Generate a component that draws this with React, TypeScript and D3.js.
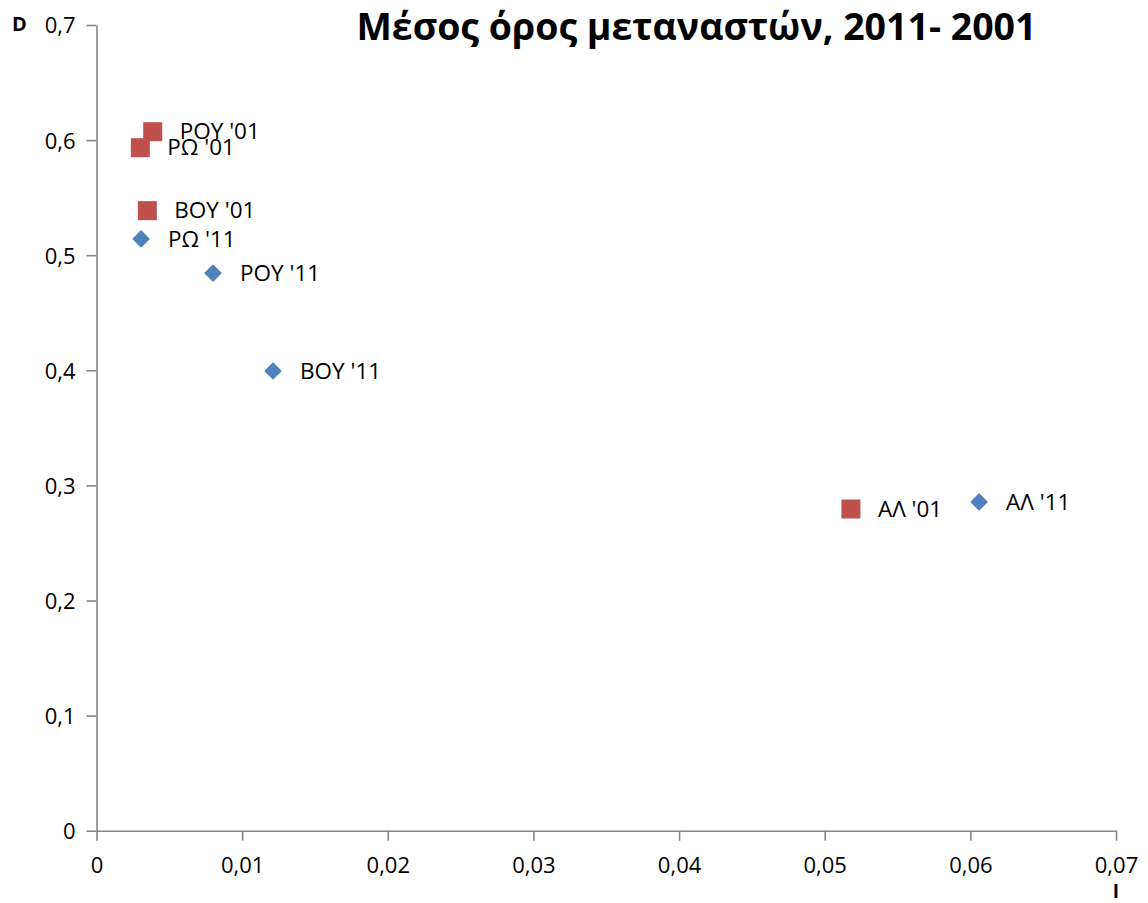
import React, { useEffect, useRef } from "react";
import * as d3 from "d3";

const title = "Μέσος όρος μεταναστών, 2011- 2001";
const xTicks = [0, 0.01, 0.02, 0.03, 0.04, 0.05, 0.06, 0.07];
const yTicks = [0, 0.1, 0.2, 0.3, 0.4, 0.5, 0.6, 0.7];

const labels2001 = ["ΡΟΥ '01", "ΡΩ '01", "ΒΟΥ '01", "ΑΛ '01"];
const x2001 = [0.00386, 0.00301, 0.00349, 0.0518];
const y2001 = [0.6073, 0.5934, 0.5387, 0.2795];

const labels2011 = ["ΡΩ '11", "ΡΟΥ '11", "ΒΟΥ '11", "ΑΛ '11"];
const x2011 = [0.00306, 0.008, 0.01212, 0.0606];
const y2011 = [0.5141, 0.4845, 0.3994, 0.2856];

const W = 1148;
const H = 903;
const FONT = "'Open Sans', 'Noto Sans', sans-serif";

export default function App() {
  const ref = useRef<SVGSVGElement>(null);

  useEffect(() => {
    const svg = d3.select(ref.current);
    svg.selectAll("*").remove();

    const x = d3.scaleLinear().domain([0, 0.07]).range([96.5, 1116]);
    const y = d3.scaleLinear().domain([0, 0.7]).range([830.7, 25]);
    const fmt = (v: number) => (v === 0 ? "0" : d3.format(".2f")(v).replace(".", ","));
    const fmtY = (v: number) => (v === 0 ? "0" : d3.format(".1f")(v).replace(".", ","));

    const axisColor = "#868686";

    const gy = svg.append("g").attr("transform", `translate(${x(0)},0)`)
      .call(d3.axisLeft(y).tickValues(yTicks).tickFormat(fmtY as any).tickSize(10).tickSizeOuter(0).tickPadding(11));
    const gx = svg.append("g").attr("transform", `translate(0,${y(0)})`)
      .call(d3.axisBottom(x).tickValues(xTicks).tickFormat(fmt as any).tickSize(10).tickSizeOuter(0).tickPadding(17));

    [gy, gx].forEach((g) => {
      g.select(".domain").attr("stroke", axisColor).attr("stroke-width", 1.6);
      g.selectAll(".tick line").attr("stroke", axisColor).attr("stroke-width", 1.6);
      g.selectAll(".tick text").attr("fill", "#000").attr("font-size", 22).attr("font-family", FONT);
    });
    gy.selectAll(".tick text").attr("dy", "0.36em");

    // title
    svg.append("text").attr("x", 696.5).attr("y", 40).attr("text-anchor", "middle")
      .attr("font-family", FONT).attr("font-weight", "bold").attr("font-size", 37.5).attr("fill", "#000").text(title);

    // axis titles
    svg.append("text").attr("x", 12).attr("y", 31).attr("font-family", FONT).attr("font-weight", "bold")
      .attr("font-size", 20).attr("fill", "#000").text("D");
    svg.append("text").attr("x", 1116).attr("y", 898).attr("text-anchor", "middle").attr("font-family", FONT)
      .attr("font-weight", "bold").attr("font-size", 19).attr("fill", "#000").text("I");

    // 2011 diamonds
    const d11 = labels2011.map((l, i) => ({ l, x: x2011[i], y: y2011[i] }));
    const diamond = d3.symbol().type(d3.symbolDiamond2).size(200);
    svg.append("g").selectAll("path").data(d11).enter().append("path")
      .attr("d", diamond as any)
      .attr("transform", (d) => `translate(${x(d.x)},${y(d.y)})`)
      .attr("fill", "#4F81BD");

    // 2001 squares
    const d01 = labels2001.map((l, i) => ({ l, x: x2001[i], y: y2001[i] }));
    const s = 19;
    svg.append("g").selectAll("rect").data(d01).enter().append("rect")
      .attr("x", (d) => x(d.x) - s / 2).attr("y", (d) => y(d.y) - s / 2)
      .attr("width", s).attr("height", s).attr("fill", "#C0504D");

    // labels
    const all = [...d01, ...d11];
    svg.append("g").selectAll("text").data(all).enter().append("text")
      .attr("x", (d) => x(d.x) + 27).attr("y", (d) => y(d.y))
      .attr("dy", "0.34em").attr("font-family", FONT).attr("font-size", 22.5).attr("fill", "#000")
      .text((d) => d.l);
  }, []);

  return (
    <div style={{ position: "absolute", left: 0, top: 0 }}>
      <svg ref={ref} width={W} height={H} style={{ display: "block", background: "#fff" }} />
    </div>
  );
}
